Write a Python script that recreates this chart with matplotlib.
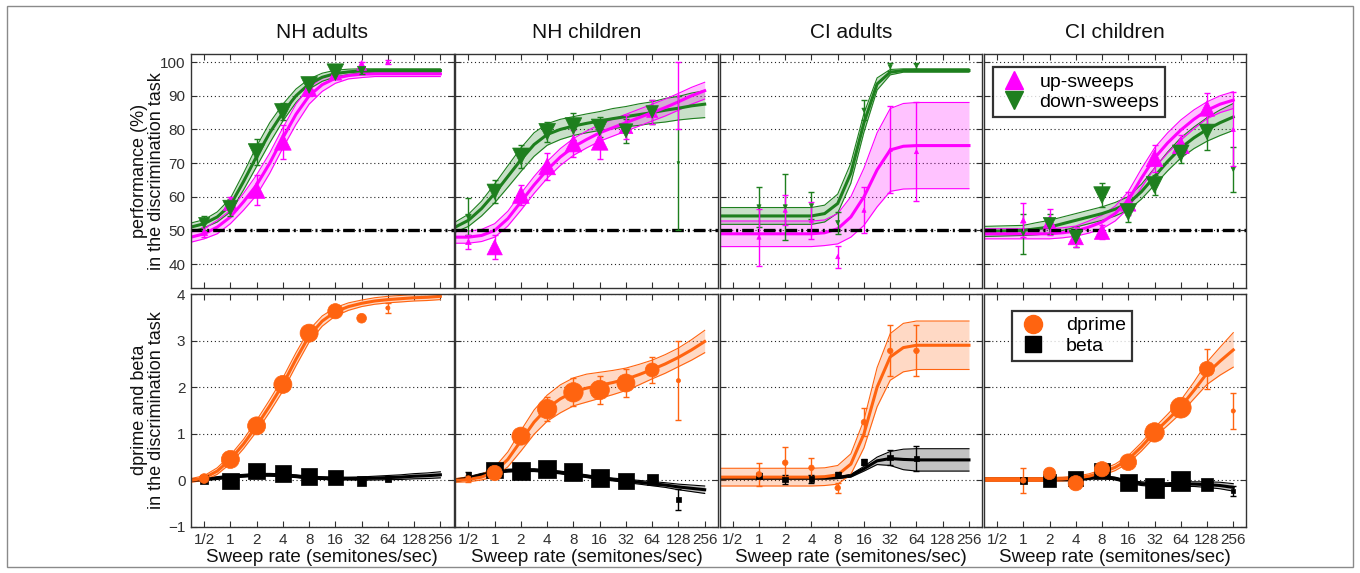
import numpy as np
import matplotlib
matplotlib.use("Agg")
import matplotlib.pyplot as plt
from matplotlib.patches import Rectangle
from matplotlib.lines import Line2D

plt.rcParams['font.family'] = ['Liberation Sans', 'DejaVu Sans']

nan = np.nan
PANELS = ["NH adults", "NH children", "CI adults", "CI children"]
RATES = [0.5, 1, 2, 4, 8, 16, 32, 64, 128, 256]
RATE_LABELS = ["1/2", "1", "2", "4", "8", "16", "32", "64", "128", "256"]
# fitted curves sampled every half octave from 2^-1.5 to 2^8
CURVE_RATES = [2 ** (k / 2) for k in range(-3, 17)]

# ---------------- top row: performance (%) ----------------
NHA_UP_Y = [49.5, 58, 62, 76.3, 92, 96.5, 99, 100, nan, nan]
NHA_UP_ERR = [1.5, 2, 4.5, 5, 2, 1.5, 1, 0.5, nan, nan]
NHA_UP_SIZE = [5, 10, 12, 12, 11, 9, 7, 3, 0, 0]
NHA_DN_Y = [52.2, 56.7, 73.3, 85.2, 93.2, 97, 97.5, nan, nan, nan]
NHA_DN_ERR = [2, 2.5, 4, 2.5, 2, 1, 1, nan, nan, nan]
NHA_DN_SIZE = [8, 11, 12, 12, 12, 12, 6, 0, 0, 0]
NHA_UP_FIT = [48, 49, 51, 54, 58.5, 63.5, 70, 77.5, 84.5, 90, 93.3, 95.2, 96, 96.4, 96.5, 96.5, 96.5, 96.5, 96.5, 96.5]
NHA_UP_BAND = [1.5, 1.5, 2, 2, 2.5, 3, 3, 3, 3, 2.5, 2, 1.5, 1, 1, 0.8, 0.8, 0.8, 0.8, 0.8, 0.8]
NHA_DN_FIT = [51, 52, 54, 57.5, 64.5, 72, 79, 85, 90, 93.5, 95.5, 96.6, 97.1, 97.4, 97.5, 97.5, 97.5, 97.5, 97.5, 97.5]
NHA_DN_BAND = [1.2, 1.2, 1.5, 2, 2.5, 3, 3, 2.5, 2, 1.5, 1.2, 1, 0.8, 0.6, 0.5, 0.5, 0.5, 0.5, 0.5, 0.5]

NHC_UP_Y = [46.6, 45, 60.5, 69, 75.8, 76.3, 80.8, 85.2, 90, nan]
NHC_UP_ERR = [2, 3.5, 3, 4, 4, 5, 3.5, 3.5, 10, nan]
NHC_UP_SIZE = [4, 11, 12, 12, 12, 12, 10, 8, 2, 0]
NHC_DN_Y = [54, 61.5, 72, 79.3, 81, 80.6, 79.6, 85.2, 70, nan]
NHC_DN_ERR = [5.5, 3.5, 3.5, 3, 4, 3, 3.5, 3.5, 20, nan]
NHC_DN_SIZE = [4, 11, 12, 12, 12, 12, 10, 9, 2, 0]
NHC_UP_FIT = [48, 48, 48.5, 50, 53.5, 58.5, 63.5, 68, 71.8, 74.8, 77, 79, 80.5, 82, 83.5, 85, 86.5, 88.2, 90, 91.5]
NHC_UP_BAND = [1.8, 1.8, 1.8, 2, 2.2, 2.5, 2.5, 2.5, 2.5, 2.5, 2.5, 2.5, 2.5, 2.5, 2.5, 2.5, 2.5, 2.5, 2.5, 2.5]
NHC_DN_FIT = [51, 53, 56.5, 61, 66, 71, 75.5, 78.5, 80, 81, 81.8, 82.5, 83.2, 83.8, 84.4, 85, 85.7, 86.3, 87, 87.5]
NHC_DN_BAND = [1.5, 1.8, 2.2, 2.8, 3.2, 3.5, 3.5, 3.2, 3, 2.8, 2.8, 2.8, 3, 3, 3.2, 3.2, 3.5, 3.5, 3.8, 4]

CIA_UP_Y = [nan, 48, 56, 53, 42.2, 56, 74, 73.4, nan, nan]
CIA_UP_ERR = [nan, 8.5, 4.5, 5.5, 3.3, 6.8, 13, 14.7, nan, nan]
CIA_UP_SIZE = [0, 3, 3, 3, 3, 3, 3, 3, 0, 0]
CIA_DN_Y = [nan, 57, 57, 57.3, 52.3, 85.7, 98.6, 98.8, nan, nan]
CIA_DN_ERR = [nan, 6, 9.7, 4, 3.3, 3, 1.2, 1, nan, nan]
CIA_DN_SIZE = [0, 3, 3, 3, 3, 3, 3, 3, 0, 0]
CIA_UP_FIT = [49, 49, 49, 49, 49, 49, 49, 49, 49.3, 50.5, 54, 60, 68, 73.9, 75, 75.2, 75.2, 75.2, 75.2, 75.2]
CIA_UP_BAND = [3.8, 3.8, 3.8, 3.8, 3.8, 3.8, 3.8, 3.8, 3.8, 4.5, 6, 8.5, 11, 12.3, 12.7, 12.8, 12.8, 12.8, 12.8, 12.8]
CIA_DN_FIT = [54.3, 54.3, 54.3, 54.3, 54.3, 54.3, 54.3, 54.3, 55, 58, 67, 82, 93.5, 97, 97.5, 97.5, 97.5, 97.5, 97.5, 97.5]
CIA_DN_BAND = [2.5, 2.5, 2.5, 2.5, 2.5, 2.5, 2.5, 2.5, 2.5, 2.8, 3, 2.8, 1.8, 0.8, 0.5, 0.5, 0.5, 0.5, 0.5, 0.5]

CIC_UP_Y = [nan, 53, 52.5, 48, 49.6, 58, 71.4, 75.3, 86.2, 80]
CIC_UP_ERR = [nan, 5, 4, 3, 2, 3.5, 4, 3, 4.5, 11]
CIC_UP_SIZE = [0, 4, 9, 11, 11, 11, 12, 12, 11, 3]
CIC_DN_Y = [nan, 49, 52, 48.1, 60.5, 55.5, 63.5, 72.9, 79.3, 68.1]
CIC_DN_ERR = [nan, 6, 3, 3, 3.5, 3, 3, 3, 5.5, 6.7]
CIC_DN_SIZE = [0, 3, 9, 10, 12, 12, 12, 12, 11, 3]
CIC_UP_FIT = [49, 49, 49, 49, 49, 49, 49.3, 49.8, 51, 52.5, 55, 59, 65.5, 71.5, 76, 79.8, 83, 85.7, 87.5, 88.7]
CIC_UP_BAND = [1.5, 1.5, 1.5, 1.5, 1.5, 1.5, 1.5, 1.5, 1.8, 2, 2.2, 2.5, 2.8, 3, 3, 3, 2.8, 2.5, 2.5, 2.5]
CIC_DN_FIT = [49.7, 49.8, 49.9, 50, 50.5, 51, 52, 53, 54, 55, 56.3, 58, 61.5, 66, 70.5, 74.5, 77.5, 80, 82, 83.7]
CIC_DN_BAND = [1.5, 1.5, 1.5, 1.5, 1.8, 2, 2, 2, 2, 2, 2, 2, 2.2, 2.5, 2.8, 3, 3.2, 3.5, 3.8, 4]

# ---------------- bottom row: dprime and beta ----------------
NHA_DP_Y = [0.04, 0.45, 1.17, 2.06, 3.16, 3.63, 3.48, 3.7, nan, nan]
NHA_DP_ERR = [0.06, 0.08, 0.15, 0.12, 0.12, 0.12, 0, 0.1, nan, nan]
NHA_DP_SIZE = [7, 13, 13, 13, 13, 11, 7, 3, 0, 0]
NHA_BT_Y = [0.02, -0.01, 0.2, 0.15, 0.08, 0.06, -0.02, 0.03, nan, nan]
NHA_BT_ERR = [0.04, 0.05, 0.05, 0.05, 0.05, 0.04, 0.04, 0.04, nan, nan]
NHA_BT_SIZE = [6, 12, 12, 12, 12, 11, 7, 4, 0, 0]
NHA_DP_FIT = [0.0, 0.05, 0.2, 0.45, 0.78, 1.17, 1.6, 2.06, 2.6, 3.1, 3.42, 3.62, 3.73, 3.8, 3.85, 3.88, 3.9, 3.92, 3.93, 3.95]
NHA_DP_BAND = [0.04, 0.05, 0.07, 0.09, 0.1, 0.12, 0.13, 0.14, 0.14, 0.13, 0.11, 0.09, 0.08, 0.07, 0.07, 0.07, 0.07, 0.07, 0.07, 0.07]
NHA_BT_FIT = [0.0, 0.02, 0.05, 0.08, 0.1, 0.12, 0.12, 0.11, 0.09, 0.06, 0.05, 0.04, 0.04, 0.04, 0.05, 0.06, 0.07, 0.09, 0.1, 0.12]
NHA_BT_BAND = [0.02, 0.02, 0.03, 0.03, 0.03, 0.03, 0.03, 0.03, 0.03, 0.03, 0.03, 0.03, 0.03, 0.035, 0.04, 0.045, 0.05, 0.055, 0.06, 0.065]

NHC_DP_Y = [0.04, 0.16, 0.95, 1.53, 1.89, 1.94, 2.09, 2.37, 2.14, nan]
NHC_DP_ERR = [0.08, 0.12, 0.12, 0.25, 0.3, 0.3, 0.3, 0.28, 0.85, nan]
NHC_DP_SIZE = [4, 11, 13, 14, 14, 14, 13, 10, 3, 0]
NHC_BT_Y = [0.13, 0.22, 0.21, 0.24, 0.18, 0.06, -0.01, 0.02, -0.41, nan]
NHC_BT_ERR = [0.06, 0.07, 0.07, 0.07, 0.06, 0.06, 0.05, 0.05, 0.23, nan]
NHC_BT_SIZE = [4, 12, 13, 13, 13, 13, 12, 8, 3, 0]
NHC_DP_FIT = [0.0, 0.02, 0.07, 0.18, 0.45, 0.85, 1.25, 1.55, 1.75, 1.9, 1.98, 2.04, 2.1, 2.17, 2.27, 2.38, 2.5, 2.64, 2.8, 2.98]
NHC_DP_BAND = [0.04, 0.05, 0.06, 0.1, 0.16, 0.22, 0.26, 0.28, 0.3, 0.3, 0.3, 0.28, 0.26, 0.24, 0.22, 0.2, 0.2, 0.2, 0.22, 0.24]
NHC_BT_FIT = [0.0, 0.05, 0.12, 0.18, 0.21, 0.22, 0.22, 0.2, 0.17, 0.13, 0.09, 0.05, 0.02, -0.01, -0.04, -0.07, -0.1, -0.14, -0.17, -0.2]
NHC_BT_BAND = [0.03, 0.03, 0.03, 0.03, 0.03, 0.03, 0.03, 0.03, 0.03, 0.03, 0.03, 0.03, 0.03, 0.035, 0.04, 0.045, 0.05, 0.06, 0.07, 0.08]

CIA_DP_Y = [nan, 0.13, 0.38, 0.27, -0.16, 1.25, 2.78, 2.78, nan, nan]
CIA_DP_ERR = [nan, 0.24, 0.33, 0.2, 0.1, 0.3, 0.55, 0.55, nan, nan]
CIA_DP_SIZE = [0, 4, 4, 4, 4, 4, 4, 4, 0, 0]
CIA_BT_Y = [nan, 0.1, 0.02, 0.03, 0.13, 0.39, 0.49, 0.47, nan, nan]
CIA_BT_ERR = [nan, 0.05, 0.1, 0.08, 0.05, 0.06, 0.17, 0.26, nan, nan]
CIA_BT_SIZE = [0, 4, 4, 4, 4, 4, 4, 4, 0, 0]
CIA_DP_FIT = [0.07, 0.07, 0.07, 0.07, 0.07, 0.07, 0.07, 0.07, 0.08, 0.12, 0.35, 1.0, 2.0, 2.65, 2.85, 2.9, 2.9, 2.9, 2.9, 2.9]
CIA_DP_BAND = [0.19, 0.19, 0.19, 0.19, 0.19, 0.19, 0.19, 0.19, 0.19, 0.2, 0.22, 0.3, 0.42, 0.5, 0.52, 0.52, 0.52, 0.52, 0.52, 0.52]
CIA_BT_FIT = [0.05, 0.05, 0.05, 0.05, 0.05, 0.05, 0.05, 0.05, 0.05, 0.06, 0.1, 0.25, 0.42, 0.47, 0.45, 0.44, 0.44, 0.44, 0.44, 0.44]
CIA_BT_BAND = [0.02, 0.02, 0.02, 0.02, 0.02, 0.02, 0.02, 0.02, 0.02, 0.02, 0.03, 0.05, 0.08, 0.15, 0.22, 0.24, 0.24, 0.24, 0.24, 0.24]

CIC_DP_Y = [nan, 0.0, 0.15, -0.06, 0.24, 0.39, 1.03, 1.56, 2.39, 1.49]
CIC_DP_ERR = [nan, 0.27, 0.05, 0.05, 0.05, 0.05, 0.08, 0.1, 0.42, 0.39]
CIC_DP_SIZE = [0, 4, 9, 11, 11, 12, 14, 15, 11, 3]
CIC_BT_Y = [nan, -0.01, 0.0, 0.04, 0.2, -0.04, -0.16, -0.01, -0.09, -0.23]
CIC_BT_ERR = [nan, 0.05, 0.05, 0.05, 0.05, 0.05, 0.05, 0.06, 0.06, 0.1]
CIC_BT_SIZE = [0, 5, 9, 11, 11, 12, 14, 14, 9, 3]
CIC_DP_FIT = [0.02, 0.02, 0.02, 0.02, 0.02, 0.02, 0.03, 0.05, 0.09, 0.17, 0.28, 0.45, 0.72, 1.03, 1.3, 1.58, 1.93, 2.3, 2.56, 2.8]
CIC_DP_BAND = [0.04, 0.04, 0.04, 0.04, 0.04, 0.04, 0.04, 0.04, 0.05, 0.06, 0.07, 0.08, 0.09, 0.1, 0.12, 0.14, 0.18, 0.24, 0.3, 0.37]
CIC_BT_FIT = [0.02, 0.02, 0.02, 0.02, 0.02, 0.02, 0.02, 0.02, 0.05, 0.08, 0.04, -0.03, -0.07, -0.09, -0.09, -0.08, -0.08, -0.09, -0.11, -0.15]
CIC_BT_BAND = [0.03, 0.03, 0.03, 0.03, 0.03, 0.03, 0.03, 0.03, 0.03, 0.03, 0.03, 0.03, 0.04, 0.04, 0.04, 0.05, 0.05, 0.06, 0.07, 0.08]

TOP_TICKS = [40, 50, 60, 70, 80, 90, 100]
BOT_TICKS = [-1, 0, 1, 2, 3, 4]

MAGENTA = '#FF00FF'
GREEN = '#1E7F1E'
ORANGE = '#FF6410'
BLACK = '#000000'

W, H = 1360, 573
fig = plt.figure(figsize=(W / 100, H / 100), dpi=100)

fig.patches.append(Rectangle((7 / W, 1 - 567 / H), (1353 - 7) / W, (567 - 6) / H,
                             transform=fig.transFigure, fill=False,
                             edgecolor='#8a8a8a', lw=1.0))


def frac_box(x0, y0, x1, y1):
    return [x0 / W, 1 - y1 / H, (x1 - x0) / W, (y1 - y0) / H]


def draw_series(ax, fit, band, color, ys, errs, sizes, marker):
    fit = np.asarray(fit, float)
    band = np.asarray(band, float)
    ax.fill_between(CURVE_RATES, fit - band, fit + band, color=color,
                    alpha=0.24, lw=0, zorder=1)
    ax.plot(CURVE_RATES, fit - band, color=color, lw=0.8, zorder=2)
    ax.plot(CURVE_RATES, fit + band, color=color, lw=0.8, zorder=2)
    ax.plot(CURVE_RATES, fit, color=color, lw=2.2, zorder=2.2)
    ys = np.asarray(ys, float)
    errs = np.asarray(errs, float)
    ax.errorbar(RATES, ys, yerr=errs, fmt='none', ecolor=color,
                elinewidth=1.0, capsize=2, capthick=1.0, zorder=3)
    s = np.asarray(sizes, float) ** 2
    ax.scatter(RATES, ys, s=s, marker=marker, c=color, edgecolors=color,
               linewidths=0.5, zorder=4)


def style_axes(ax, ylim, yticks, show_ylabels, show_xlabels):
    ax.set_xscale('log', base=2)
    ax.set_xlim(2 ** -1.5, 2 ** 8.5)
    ax.set_ylim(*ylim)
    ax.set_xticks(RATES)
    ax.xaxis.set_minor_locator(matplotlib.ticker.NullLocator())
    ax.set_yticks(yticks)
    if show_xlabels:
        ax.set_xticklabels(RATE_LABELS)
    else:
        ax.set_xticklabels([])
    if not show_ylabels:
        ax.set_yticklabels([])
    ax.tick_params(direction='in', length=4, width=0.8, top=True, right=True,
                   labelsize=11, colors='#303030', pad=4)
    ax.yaxis.grid(True, linestyle=(0, (1, 2.5)), color='#222222', lw=0.8)
    ax.set_axisbelow(True)
    for sp in ax.spines.values():
        sp.set_color('#333333')
        sp.set_linewidth(1.0)


TOP = [
    (NHA_UP_Y, NHA_UP_ERR, NHA_UP_SIZE, NHA_UP_FIT, NHA_UP_BAND,
     NHA_DN_Y, NHA_DN_ERR, NHA_DN_SIZE, NHA_DN_FIT, NHA_DN_BAND),
    (NHC_UP_Y, NHC_UP_ERR, NHC_UP_SIZE, NHC_UP_FIT, NHC_UP_BAND,
     NHC_DN_Y, NHC_DN_ERR, NHC_DN_SIZE, NHC_DN_FIT, NHC_DN_BAND),
    (CIA_UP_Y, CIA_UP_ERR, CIA_UP_SIZE, CIA_UP_FIT, CIA_UP_BAND,
     CIA_DN_Y, CIA_DN_ERR, CIA_DN_SIZE, CIA_DN_FIT, CIA_DN_BAND),
    (CIC_UP_Y, CIC_UP_ERR, CIC_UP_SIZE, CIC_UP_FIT, CIC_UP_BAND,
     CIC_DN_Y, CIC_DN_ERR, CIC_DN_SIZE, CIC_DN_FIT, CIC_DN_BAND),
]
BOT = [
    (NHA_DP_Y, NHA_DP_ERR, NHA_DP_SIZE, NHA_DP_FIT, NHA_DP_BAND,
     NHA_BT_Y, NHA_BT_ERR, NHA_BT_SIZE, NHA_BT_FIT, NHA_BT_BAND),
    (NHC_DP_Y, NHC_DP_ERR, NHC_DP_SIZE, NHC_DP_FIT, NHC_DP_BAND,
     NHC_BT_Y, NHC_BT_ERR, NHC_BT_SIZE, NHC_BT_FIT, NHC_BT_BAND),
    (CIA_DP_Y, CIA_DP_ERR, CIA_DP_SIZE, CIA_DP_FIT, CIA_DP_BAND,
     CIA_BT_Y, CIA_BT_ERR, CIA_BT_SIZE, CIA_BT_FIT, CIA_BT_BAND),
    (CIC_DP_Y, CIC_DP_ERR, CIC_DP_SIZE, CIC_DP_FIT, CIC_DP_BAND,
     CIC_BT_Y, CIC_BT_ERR, CIC_BT_SIZE, CIC_BT_FIT, CIC_BT_BAND),
]

for k in range(4):
    x0 = 191 + k * 264.3
    x1 = x0 + 262.5
    # ---- top ----
    ax = fig.add_axes(frac_box(x0, 54, x1, 288))
    (uy, ue, us, uf, ub, dy, de, ds, df, db) = TOP[k]
    draw_series(ax, df, db, GREEN, dy, de, [0] * 10, 'v')
    draw_series(ax, uf, ub, MAGENTA, uy, ue, us, '^')
    ax.scatter(RATES, np.asarray(dy, float), s=np.asarray(ds, float) ** 2,
               marker='v', c=GREEN, edgecolors=GREEN, linewidths=0.5, zorder=4.5)
    ax.axhline(50, color='black', lw=2.4, linestyle=(0, (3.5, 1.2, 0.6, 1.2)),
               zorder=2.5)
    style_axes(ax, (32.9, 102.4), TOP_TICKS, k == 0, False)
    fig.text((x0 + x1) / 2 / W, 1 - 32 / H, PANELS[k], ha='center', va='center',
             fontsize=15, color='#111111')
    if k == 3:
        handles = [Line2D([], [], marker='^', color=MAGENTA, ls='none', ms=13),
                   Line2D([], [], marker='v', color=GREEN, ls='none', ms=13)]
        leg = ax.legend(handles, ['up-sweeps', 'down-sweeps'], loc='upper left',
                        bbox_to_anchor=(0.034, 0.944), borderaxespad=0,
                        fontsize=14, frameon=True, fancybox=False,
                        handletextpad=0.5, borderpad=0.3, labelspacing=0.15,
                        handlelength=1.6)
        leg.get_frame().set_edgecolor('black')
        leg.get_frame().set_linewidth(1.6)
        leg.set_zorder(10)

    # ---- bottom ----
    ax = fig.add_axes(frac_box(x0, 294, x1, 527))
    (py, pe, ps, pf, pb, by, be, bs, bf, bb) = BOT[k]
    draw_series(ax, bf, bb, BLACK, by, be, bs, 's')
    draw_series(ax, pf, pb, ORANGE, py, pe, ps, 'o')
    style_axes(ax, (-1, 4), BOT_TICKS, k == 0, True)
    ax.set_xlabel('Sweep rate (semitones/sec)', fontsize=13.5, labelpad=2,
                  color='#111111')
    if k == 3:
        handles = [Line2D([], [], marker='o', color=ORANGE, ls='none', ms=13),
                   Line2D([], [], marker='s', color=BLACK, ls='none', ms=12)]
        leg = ax.legend(handles, ['dprime', 'beta'], loc='upper left',
                        bbox_to_anchor=(0.106, 0.927), borderaxespad=0,
                        fontsize=14, frameon=True, fancybox=False,
                        handletextpad=0.9, borderpad=0.3, labelspacing=0.15,
                        handlelength=1.6)
        leg.get_frame().set_edgecolor('black')
        leg.get_frame().set_linewidth(1.6)
        leg.set_zorder(10)

fig.text(148 / W, 1 - 171 / H, 'performance (%)\nin the discrimination task',
         rotation=90, ha='center', va='center', fontsize=13,
         multialignment='center', color='#111111', linespacing=1.05)
fig.text(148 / W, 1 - 410 / H, 'dprime and beta\nin the discrimination task',
         rotation=90, ha='center', va='center', fontsize=13,
         multialignment='center', color='#111111', linespacing=1.05)

fig.savefig('out.png', dpi=100)
